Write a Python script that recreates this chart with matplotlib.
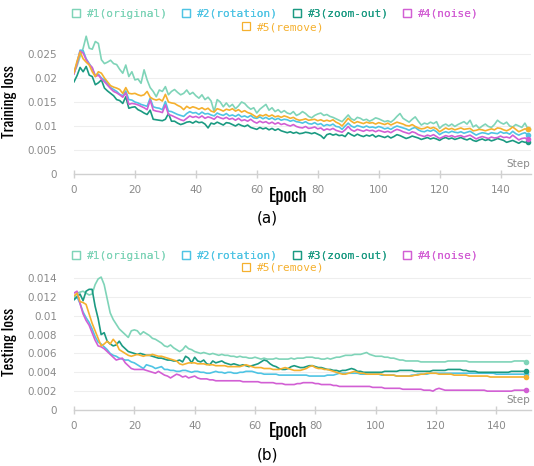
import numpy as np
import matplotlib
matplotlib.use("Agg")
import matplotlib.pyplot as plt
from matplotlib.lines import Line2D

# ---------------- data (values in units of 1e-4) ----------------
SCALE = 1e-4
series_names = ["#1(original)", "#2(rotation)", "#3(zoom-out)", "#4(noise)", "#5(remove)"]
series_colors = ["#7fd4b8", "#4fc4e4", "#1b9a82", "#d25fd4", "#f5b02e"]

train_epochs = list(range(150))
test_epochs = list(range(151))

train_original = [
    211, 225, 245, 262, 287, 262, 260, 276, 272, 238, 230, 233, 237, 230, 228, 218, 210, 227, 203, 213,
    196, 198, 189, 217, 196, 180, 172, 161, 175, 172, 182, 165, 172, 176, 170, 165, 168, 175, 166, 170,
    163, 158, 165, 155, 160, 152, 130, 155, 150, 140, 148, 140, 145, 136, 142, 150, 147, 140, 135, 138,
    127, 135, 140, 145, 133, 138, 130, 134, 128, 132, 127, 125, 130, 122, 125, 130, 126, 120, 117, 122,
    125, 127, 122, 124, 120, 118, 115, 112, 109, 116, 123, 115, 112, 118, 116, 112, 114, 110, 113, 117,
    115, 112, 109, 111, 108, 113, 120, 126, 116, 112, 108, 114, 119, 110, 102, 106, 104, 108, 105, 109,
    95, 101, 104, 100, 104, 99, 103, 106, 109, 104, 112, 98, 102, 95, 100, 104, 99, 97, 103, 112,
    107, 104, 108, 100, 98, 103, 100, 97, 106, 94]
train_rotation = [
    210, 232, 258, 257, 240, 230, 220, 205, 208, 200, 196, 188, 180, 176, 172, 166, 163, 173, 155, 154,
    150, 148, 145, 143, 141, 158, 140, 138, 137, 134, 151, 131, 130, 127, 124, 122, 120, 126, 130, 127,
    128, 124, 129, 125, 126, 123, 121, 127, 124, 122, 126, 121, 123, 120, 124, 119, 121, 118, 122, 117,
    116, 119, 115, 118, 114, 117, 113, 116, 112, 114, 113, 110, 112, 109, 108, 106, 109, 105, 104, 107,
    103, 105, 100, 103, 101, 104, 99, 98, 93, 100, 106, 100, 97, 101, 99, 97, 100, 97, 98, 96,
    99, 97, 94, 96, 93, 97, 100, 98, 96, 94, 91, 95, 97, 92, 89, 88, 91, 89, 92, 88,
    82, 86, 88, 86, 89, 87, 86, 88, 85, 87, 89, 85, 81, 84, 86, 85, 83, 86, 85, 84,
    88, 85, 86, 83, 89, 84, 81, 84, 86, 82]
train_zoomout = [
    192, 205, 222, 213, 224, 206, 203, 186, 190, 196, 179, 173, 168, 163, 155, 153, 147, 161, 137, 139,
    140, 134, 131, 127, 124, 133, 114, 113, 112, 111, 114, 126, 110, 110, 106, 103, 105, 108, 109, 106,
    110, 107, 108, 104, 96, 106, 104, 108, 105, 102, 107, 106, 103, 100, 104, 101, 99, 102, 97, 95,
    93, 97, 94, 96, 92, 95, 91, 94, 90, 88, 86, 88, 85, 87, 84, 85, 87, 86, 84, 86,
    83, 80, 74, 82, 84, 81, 83, 80, 81, 78, 86, 82, 79, 83, 80, 78, 81, 79, 82, 77,
    80, 78, 76, 79, 75, 78, 82, 80, 77, 74, 76, 79, 77, 75, 72, 74, 76, 73, 75, 73,
    70, 74, 76, 73, 75, 72, 74, 76, 73, 71, 74, 70, 68, 71, 73, 70, 72, 69, 71, 74,
    72, 70, 66, 68, 70, 67, 64, 68, 66, 66]
train_noise = [
    208, 230, 256, 252, 238, 228, 222, 203, 206, 198, 192, 185, 178, 172, 169, 165, 160, 169, 145, 147,
    146, 144, 141, 138, 134, 154, 133, 131, 130, 128, 144, 124, 122, 119, 116, 113, 111, 116, 121, 118,
    120, 117, 121, 116, 119, 117, 114, 120, 117, 115, 118, 114, 116, 112, 116, 111, 113, 110, 114, 109,
    106, 110, 107, 109, 105, 108, 104, 107, 103, 105, 102, 100, 103, 99, 97, 96, 99, 95, 96, 98,
    94, 96, 91, 94, 92, 95, 91, 89, 87, 92, 99, 92, 89, 93, 91, 89, 92, 90, 91, 88,
    91, 89, 87, 89, 86, 90, 93, 91, 88, 86, 84, 88, 86, 82, 80, 78, 81, 79, 82, 78,
    74, 77, 80, 78, 80, 77, 79, 80, 77, 79, 81, 77, 73, 76, 78, 76, 74, 77, 75, 76,
    79, 76, 77, 75, 81, 76, 71, 74, 75, 73]
train_remove = [
    211, 235, 254, 240, 233, 227, 213, 203, 213, 210, 200, 192, 184, 181, 179, 176, 168, 180, 168, 167,
    168, 165, 163, 165, 172, 160, 156, 154, 156, 152, 166, 150, 148, 147, 143, 140, 134, 141, 137, 140,
    138, 135, 138, 134, 137, 131, 129, 136, 134, 131, 135, 133, 136, 131, 134, 129, 132, 128, 126, 122,
    118, 123, 121, 124, 120, 123, 119, 121, 118, 121, 119, 116, 118, 114, 112, 113, 115, 112, 113, 114,
    111, 113, 110, 112, 110, 113, 108, 105, 100, 108, 116, 110, 106, 109, 107, 105, 108, 106, 107, 104,
    107, 105, 103, 106, 102, 105, 108, 106, 104, 101, 100, 103, 99, 96, 94, 95, 98, 95, 97, 94,
    88, 92, 96, 93, 95, 92, 94, 96, 93, 94, 95, 90, 91, 93, 92, 90, 92, 94, 92, 96,
    95, 92, 90, 93, 98, 93, 88, 91, 94, 93]

test_original = [
    118, 124, 125, 126, 124, 122, 123, 133, 139, 141, 133, 118, 103, 96, 91, 86, 83, 80, 77, 84,
    85, 84, 80, 83, 81, 79, 76, 75, 73, 71, 68, 67, 69, 66, 64, 62, 64, 68, 65, 64,
    62, 61, 60, 61, 60, 59, 60, 59, 58, 59, 58, 58, 57, 57, 56, 57, 56, 56, 55, 55,
    56, 55, 54, 55, 54, 54, 54, 55, 54, 54, 54, 54, 55, 54, 55, 55, 55, 56, 56, 56,
    55, 55, 54, 54, 55, 54, 55, 56, 56, 57, 58, 58, 58, 59, 59, 59, 60, 61, 59, 58,
    57, 57, 57, 56, 56, 55, 55, 54, 53, 53, 52, 52, 52, 52, 52, 51, 51, 51, 51, 51,
    51, 51, 51, 51, 52, 52, 52, 52, 52, 52, 52, 51, 51, 51, 51, 51, 51, 51, 51, 51,
    51, 51, 51, 51, 51, 51, 52, 52, 52, 52, 51]
test_rotation = [
    117, 120, 113, 104, 98, 93, 86, 78, 72, 70, 67, 64, 60, 58, 57, 55, 54, 53, 53, 51,
    50, 48, 46, 44, 48, 47, 46, 44, 45, 46, 43, 43, 42, 42, 41, 41, 42, 42, 41, 40,
    41, 41, 40, 40, 39, 39, 40, 41, 40, 40, 39, 40, 40, 39, 39, 40, 40, 41, 41, 41,
    40, 39, 39, 38, 38, 38, 38, 38, 37, 37, 37, 37, 37, 37, 37, 37, 37, 37, 36, 36,
    36, 36, 36, 36, 37, 37, 37, 38, 39, 39, 39, 39, 39, 39, 39, 38, 38, 38, 38, 38,
    38, 38, 37, 37, 37, 37, 37, 36, 36, 36, 36, 36, 37, 37, 38, 38, 38, 38, 39, 39,
    39, 39, 39, 39, 39, 39, 39, 39, 39, 39, 39, 39, 39, 39, 39, 39, 39, 39, 39, 39,
    38, 38, 38, 38, 38, 38, 38, 38, 38, 38, 38]
test_zoomout = [
    117, 120, 123, 116, 126, 128, 128, 110, 97, 80, 82, 73, 70, 68, 69, 73, 68, 65, 62, 61,
    60, 59, 60, 59, 58, 58, 57, 56, 55, 55, 54, 53, 53, 52, 52, 53, 51, 57, 55, 50,
    56, 52, 51, 53, 49, 48, 52, 50, 51, 52, 50, 49, 48, 49, 48, 47, 48, 47, 46, 47,
    48, 49, 51, 53, 52, 49, 47, 46, 44, 43, 43, 44, 46, 47, 46, 45, 45, 46, 47, 47,
    46, 45, 45, 44, 43, 43, 42, 42, 41, 42, 42, 43, 44, 43, 41, 41, 40, 40, 40, 40,
    40, 40, 40, 41, 41, 41, 41, 41, 42, 42, 42, 42, 42, 41, 41, 41, 41, 41, 41, 42,
    42, 42, 42, 42, 43, 43, 43, 43, 43, 42, 42, 41, 41, 41, 40, 40, 40, 40, 40, 40,
    40, 40, 40, 40, 40, 41, 41, 41, 41, 41, 41]
test_noise = [
    124, 126, 113, 102, 95, 90, 82, 74, 68, 67, 65, 62, 59, 56, 53, 54, 55, 50, 47, 44,
    43, 43, 43, 43, 42, 41, 40, 39, 41, 39, 37, 36, 34, 36, 38, 37, 35, 36, 34, 35,
    36, 34, 33, 33, 33, 32, 32, 31, 31, 31, 31, 31, 31, 31, 31, 31, 30, 30, 30, 30,
    30, 30, 29, 29, 29, 29, 29, 28, 28, 28, 27, 27, 27, 27, 28, 28, 29, 29, 29, 29,
    28, 28, 27, 27, 27, 27, 26, 26, 25, 25, 25, 25, 25, 25, 25, 25, 25, 25, 25, 24,
    24, 24, 24, 23, 23, 23, 23, 23, 23, 22, 22, 22, 22, 22, 22, 22, 21, 21, 21, 20,
    22, 23, 22, 21, 21, 21, 21, 21, 21, 21, 21, 21, 21, 21, 21, 21, 21, 20, 20, 20,
    20, 20, 20, 20, 20, 20, 21, 21, 21, 21, 21]
test_remove = [
    121, 124, 115, 114, 112, 102, 92, 84, 76, 68, 70, 73, 70, 75, 71, 64, 62, 60, 58, 57,
    58, 59, 58, 57, 58, 58, 59, 58, 57, 57, 56, 55, 54, 53, 52, 49, 48, 49, 50, 50,
    50, 49, 49, 49, 48, 48, 48, 47, 47, 47, 47, 46, 46, 46, 46, 46, 47, 48, 47, 46,
    45, 45, 45, 44, 44, 44, 43, 43, 43, 44, 45, 44, 43, 42, 42, 42, 43, 44, 46, 47,
    45, 44, 44, 43, 43, 42, 41, 40, 39, 38, 38, 39, 40, 41, 40, 39, 39, 38, 38, 38,
    38, 38, 38, 37, 37, 37, 37, 36, 36, 36, 36, 36, 36, 37, 37, 38, 38, 39, 39, 39,
    39, 38, 38, 38, 38, 38, 37, 37, 37, 37, 37, 36, 36, 36, 36, 36, 36, 36, 35, 35,
    35, 35, 35, 35, 35, 35, 35, 35, 35, 35, 35]

train_series = [train_original, train_rotation, train_zoomout, train_noise, train_remove]
test_series = [test_original, test_rotation, test_zoomout, test_noise, test_remove]

train_yticks = [0, 0.005, 0.01, 0.015, 0.02, 0.025]
test_yticks = [0, 0.002, 0.004, 0.006, 0.008, 0.01, 0.012, 0.014]
xticks = [0, 20, 40, 60, 80, 100, 120, 140]

# ---------------- figure ----------------
W, H = 534, 466
fig = plt.figure(figsize=(W / 100, H / 100), dpi=100)

GRAY_TXT = "#8a8a8a"
COND = ["Oswald", "Roboto Condensed", "Barlow Condensed", "Archivo Narrow", "DejaVu Sans"]


def fmt(v):
    return ("%.3f" % v).rstrip("0").rstrip(".")


def setup_axes(ax, yticks, ylabel):
    for s in ["top", "right", "left"]:
        ax.spines[s].set_visible(False)
    ax.spines["bottom"].set_color("#d0d0d0")
    ax.spines["bottom"].set_linewidth(1.0)
    ax.set_yticks(yticks)
    ax.set_yticklabels([fmt(v) for v in yticks])
    ax.set_xticks(xticks)
    ax.tick_params(axis="y", length=0, pad=12, labelsize=7.5, labelcolor=GRAY_TXT)
    ax.tick_params(axis="x", length=6, direction="inout", color="#d0d0d0", width=1,
                   pad=5, labelsize=7.5, labelcolor=GRAY_TXT)
    for v in yticks[1:]:
        ax.axhline(v, color="#eeeeee", lw=0.8, zorder=0)
    ax.set_ylabel(ylabel, family=COND, fontweight="bold", fontsize=11.5, labelpad=8)
    ax.set_xlabel("Epoch", family=COND, fontweight="bold", fontsize=13, labelpad=0)
    ax.xaxis.set_label_coords(0.468, -0.09)
    ax.text(0.998, 0.035, "Step", transform=ax.transAxes, ha="right", va="bottom",
            fontsize=7.5, color=GRAY_TXT)


def draw(ax, epochs, series):
    for vals, col in zip(series, series_colors):
        y = np.array(vals) * SCALE
        ax.plot(epochs, y, color=col, lw=1.2, zorder=3)
        ax.plot(epochs[-1], y[-1], "o", color=col, ms=3, zorder=4)


def add_legend(y1, y2):
    handles = [Line2D([], [], marker="s", linestyle="none", markerfacecolor="none",
                      markeredgecolor=c, color=c, markersize=6, markeredgewidth=0.9)
               for c in series_colors]
    kw = dict(frameon=False, handlelength=0.8, handletextpad=0.6, columnspacing=1.25,
              labelcolor="linecolor", prop={"family": "DejaVu Sans Mono", "size": 8},
              borderaxespad=0, borderpad=0)
    leg1 = fig.legend(handles[:4], series_names[:4], ncol=4, loc="center",
                      bbox_to_anchor=(0.515, y1), **kw)
    fig.add_artist(leg1)
    fig.legend(handles[4:], series_names[4:], ncol=1, loc="center",
               bbox_to_anchor=(0.530, y2), **kw)


# top plot
ax1 = fig.add_axes([74 / W, 1 - 174 / H, (531 - 74) / W, 144 / H])
draw(ax1, train_epochs, train_series)
ax1.set_xlim(0, 150)
ax1.set_ylim(0, 0.03)
setup_axes(ax1, train_yticks, "Training loss")
add_legend(1 - 14 / H, 1 - 27 / H)
fig.text(267 / W, 1 - 218 / H, "(a)", ha="center", va="center", fontsize=11)

# bottom plot
ax2 = fig.add_axes([74 / W, 1 - 410 / H, (531 - 74) / W, (410 - 273.3) / H])
draw(ax2, test_epochs, test_series)
ax2.set_xlim(0, 151.5)
ax2.set_ylim(0, 0.0145)
setup_axes(ax2, test_yticks, "Testing loss")
add_legend(1 - 256 / H, 1 - 268 / H)
fig.text(267 / W, 1 - 455 / H, "(b)", ha="center", va="center", fontsize=11)

fig.savefig("out.png", dpi=100)
